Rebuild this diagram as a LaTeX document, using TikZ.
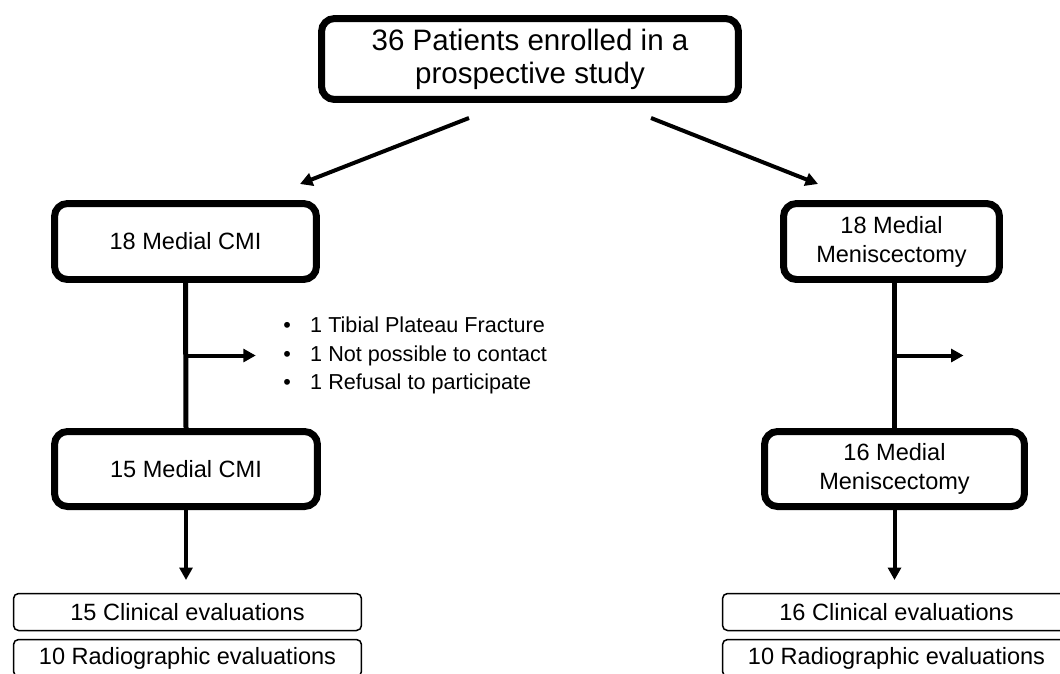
\documentclass[tikz,border=0pt]{standalone}
\usepackage{fontspec}
\setmainfont{Liberation Sans}
\usetikzlibrary{arrows.meta,calc}

\tikzset{
  bigbox/.style={draw, line width=0.14cm, rounded corners=0.26cm, align=center,
    inner sep=0pt, font=\fontsize{13.4}{16.6}\selectfont},
  evalbox/.style={draw, line width=0.03cm, rounded corners=0.1cm, align=center,
    inner sep=0pt, minimum width=6.96cm, minimum height=0.74cm,
    font=\fontsize{13.4}{15.9}\selectfont},
  link/.style={line width=0.1cm},
  arr/.style={line width=0.08cm, -{Triangle[length=0.25cm,width=0.26cm]}}
}

\begin{document}
\begin{tikzpicture}[x=0.02cm,y=-0.02cm]
\useasboundingbox (0,0) rectangle (1060,673);
\clip (0,0) rectangle (1060,673);

\node[bigbox, minimum width=8.34cm, minimum height=1.62cm, font=\fontsize{16.8}{18.8}\selectfont] (enrol) at (530,59)
  {36 Patients enrolled in a\\ prospective study};

\node[bigbox, minimum width=5.24cm, minimum height=1.52cm] (cmiA) at (185.5,241.5) {18 Medial CMI};
\node[bigbox, minimum width=5.26cm, minimum height=1.5cm] (cmiB) at (186,469) {15 Medial CMI};

\node[bigbox, minimum width=4.32cm, minimum height=1.52cm] (menA) at (891.5,241.5) {18 Medial\\ Meniscectomy};
\node[bigbox, minimum width=5.2cm, minimum height=1.5cm] (menB) at (894.5,469) {16 Medial\\ Meniscectomy};

\node[evalbox] (clinL) at (187.5,612) {15 Clinical evaluations};
\node[evalbox] (radL) at (187.5,658) {10 Radiographic evaluations};
\node[evalbox] (clinR) at (896.5,612) {16 Clinical evaluations};
\node[evalbox] (radR) at (896.5,658) {10 Radiographic evaluations};

% losses to follow-up
\node[anchor=west, inner sep=0pt, font=\fontsize{12.3}{16.2}\selectfont] (lossL) at (283,355.5)
  {\begin{tabular}{@{}l@{\hspace{11pt}}l@{}}
   \textbullet & 1 Tibial Plateau Fracture\\
   \textbullet & 1 Not possible to contact\\
   \textbullet & 1 Refusal to participate
   \end{tabular}};

% split
\coordinate (tl) at (469,118);
\coordinate (cl) at (300,184);
\coordinate (tr) at (651,118);
\coordinate (cr) at (818,184);
\draw[arr] (tl) -- (cl);
\draw[arr] (tr) -- (cr);

\draw[link] (cmiA.south) -- (cmiB.north);
\draw[link] (menA.south -| menB.north) -- (menB.north);
\draw[arr] ($(cmiA.south)!.5!(cmiB.north)$) -- ++(70,0);
\draw[arr] ($(menA.south -| menB.north)!.5!(menB.north)$) -- ++(69,0);

\draw[arr] (cmiB.south) -- ++(0,70);
\draw[arr] (menB.south) -- ++(0,70);
\end{tikzpicture}
\end{document}
